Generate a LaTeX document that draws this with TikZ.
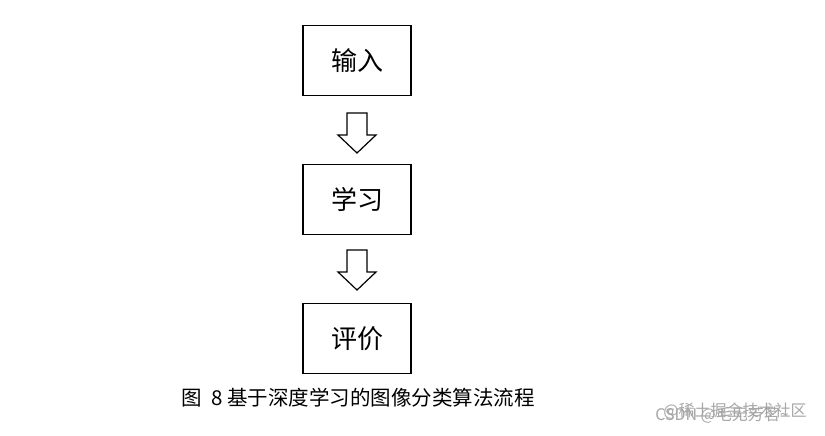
\documentclass[tikz,border=0pt]{standalone}
\usepackage{fontspec}
\newfontfamily\cjk{Noto Sans CJK SC}
\begin{document}
\begin{tikzpicture}[x=1pt,y=-1pt,
  box/.style={draw,line width=1.3pt,minimum width=108pt,minimum height=70pt,inner sep=0pt,font=\cjk\fontsize{26}{28}\selectfont},
  arr/.style={draw,line width=1.2pt,fill=white,line join=miter}]
\useasboundingbox (0,0) rectangle (825,436);
\node[box] (a) at (357,60.5) {输入};
\node[box] (b) at (357,199.5) {学习};
\node[box] (c) at (357,338.5) {评价};
\foreach \t in {113,250}{
  \draw[arr] (347,\t) -- (367,\t) -- (367,\t+22) -- (376,\t+22) -- (357,\t+40) -- (338,\t+22) -- (347,\t+22) -- cycle;
}
\node[font=\cjk\fontsize{20.5}{22}\selectfont] (cap) at (358,398) {图\ \ 8 基于深度学习的图像分类算法流程};
\node[font=\cjk\fontsize{16}{18}\selectfont,text=black!35] (w1) at (735,411) {@稀土掘金技术社区};
\node[font=\cjk\fontsize{16}{18}\selectfont,text=black!35] (w2) at (722,415) {CSDN @毛无芳茗\textasciitilde};
\end{tikzpicture}
\end{document}
